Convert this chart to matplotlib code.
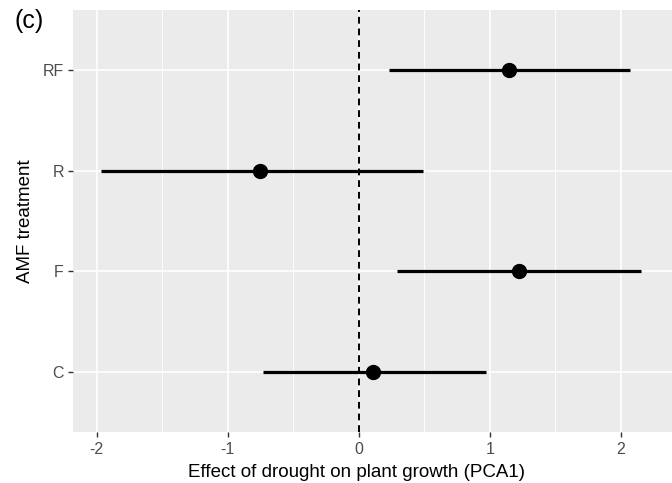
import matplotlib
matplotlib.use("Agg")
import matplotlib.pyplot as plt
import numpy as np

categories = ["C", "F", "R", "RF"]
estimates = [0.11, 1.22, -0.75, 1.15]
lower = [-0.73, 0.29, -1.97, 0.23]
upper = [0.97, 2.15, 0.49, 2.07]
x_ticks = [-2, -1, 0, 1, 2]
x_minor = [-1.5, -0.5, 0.5, 1.5]

plt.rcParams['font.family'] = ['Liberation Sans', 'DejaVu Sans']

fig = plt.figure(figsize=(6.72, 4.83), dpi=100)
ax = fig.add_axes([73/672, 1-432/483, 1-73/672, (432-10)/483])
ax.set_facecolor('#EBEBEB')
for s in ax.spines.values():
    s.set_visible(False)

ypos = np.arange(1, len(categories)+1)
ax.set_xlim(-2.18, 2.39)
ax.set_ylim(0.4, 4.6)

for xm in x_minor:
    ax.axvline(xm, color='white', lw=0.6, zorder=0)
for xt in x_ticks:
    ax.axvline(xt, color='white', lw=1.2, zorder=0)
for y in ypos:
    ax.axhline(y, color='white', lw=1.2, zorder=0)

ax.axvline(0, color='black', lw=1.4, ls=(0, (3.5, 2.5)), zorder=1)

ax.hlines(ypos, lower, upper, color='black', lw=2.3, zorder=2)
ax.plot(estimates, ypos, 'o', color='black', markersize=10, zorder=3)

ax.set_xticks(x_ticks)
ax.set_xticklabels([str(v) for v in x_ticks])
ax.set_yticks(ypos)
ax.set_yticklabels(categories)
ax.tick_params(axis='both', colors='#333333', labelcolor='#4D4D4D', labelsize=11.5,
               length=3.5, width=1.0)
ax.tick_params(axis='x', pad=4)
ax.tick_params(axis='y', pad=3)
ax.set_xlabel('Effect of drought on plant growth (PCA1)', fontsize=13.5, color='black', labelpad=3)
ax.xaxis.set_label_coords((357-73)/599, -0.075)
ax.set_ylabel('AMF treatment', fontsize=13.5, color='black', labelpad=6)

fig.text(14/672, 1-21/483, '(c)', fontsize=18, color='black', va='center', ha='left')

fig.savefig('out.png', dpi=100)
